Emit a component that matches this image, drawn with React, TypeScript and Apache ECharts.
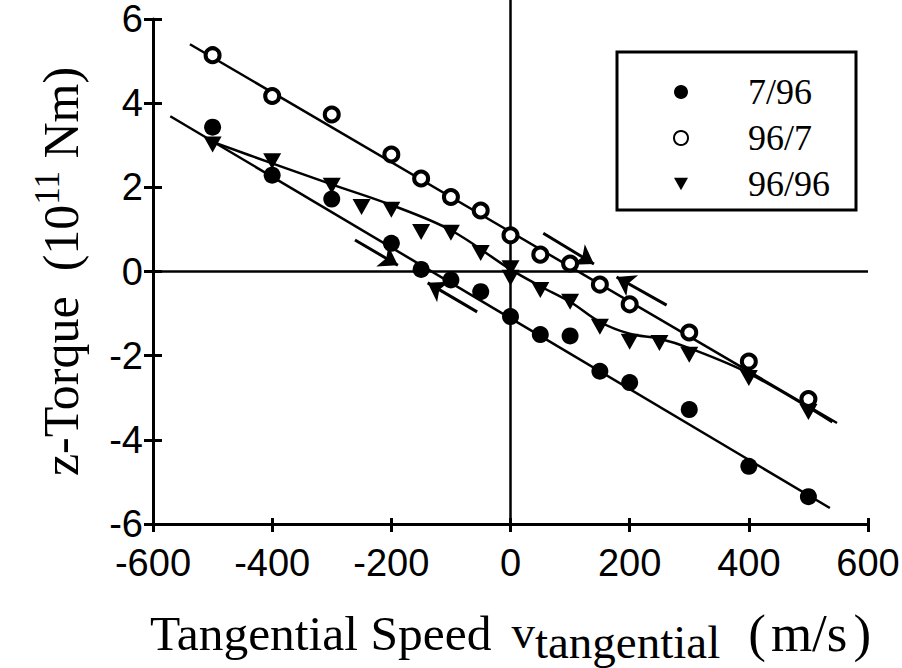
import React, { useEffect, useRef } from "react";
import * as echarts from "echarts";

const xMin = -600, xMax = 600, xStep = 200;
const yMin = -6, yMax = 6, yStep = 2;

const speeds = [-500, -400, -300, -200, -150, -100, -50, 0, 50, 100, 150, 200, 300, 400, 500];
const torque796 = [3.43, 2.29, 1.72, 0.67, 0.05, -0.2, -0.48, -1.07, -1.5, -1.53, -2.37, -2.64, -3.28, -4.63, -5.35];
const torque967 = [5.14, 4.17, 3.73, 2.78, 2.21, 1.77, 1.45, 0.86, 0.4, 0.19, -0.31, -0.78, -1.45, -2.14, -3.03];
const speeds9696 = [-500, -400, -300, -250, -200, -150, -100, -50, 0, 0, 50, 100, 150, 200, 250, 300, 400, 500];
const torque9696 = [3.02, 2.62, 2.04, 1.53, 1.47, 0.94, 0.92, 0.44, 0.08, -0.15, -0.44, -0.72, -1.31, -1.67, -1.7, -1.98, -2.53, -3.34];

const fit796X = [-571, 536];
const fit796Y = [3.69, -5.62];
const fit967X = [-538, 548];
const fit967Y = [5.4, -3.6];
const curve9696X = [-500, -400, -300, -200, -100, 0, 50, 100, 150, 200, 250, 300, 400, 540];
const curve9696Y = [3.08, 2.57, 2.07, 1.58, 0.98, 0.05, -0.35, -0.72, -1.2, -1.48, -1.6, -1.82, -2.42, -3.58];

const arrowFromX = [-261, -56, 55, 262];
const arrowFromY = [0.75, -0.96, 0.91, -0.8];
const arrowToX = [-189, -139, 140, 178];
const arrowToY = [0.15, -0.27, 0.18, -0.13];

const zeroVX = [0, 0];
const zeroVY = [yMin, 6.45];
const zeroHX = [xMin, xMax];
const zeroHY = [0, 0];

const names = ["7/96", "96/7", "96/96"];

const zip = (xs: number[], ys: number[]) => xs.map((x, i) => [x, ys[i]]);

const SERIF = "'Liberation Serif', 'Times New Roman', serif";
const SANS = "'Liberation Sans Narrow', 'Liberation Sans', Arial, sans-serif";
const TRI_DOWN = "path://M0,0 L20,0 L10,18 Z";

export default function App() {
  const ref = useRef<HTMLDivElement>(null);
  useEffect(() => {
    if (!ref.current) return;
    const chart = echarts.init(ref.current, undefined, { renderer: "svg" });
    const axisCommon = { show: true, lineStyle: { color: "#000", width: 3 } };
    const plainLine = (name: string, data: number[][], extra: any = {}) => ({
      name,
      type: "line",
      data,
      showSymbol: false,
      symbol: "none",
      lineStyle: { color: "#000", width: 2.5 },
      silent: true,
      ...extra,
    });
    chart.setOption({
      animation: false,
      backgroundColor: "#fff",
      grid: { left: 153, right: 34, top: 19, bottom: 144, containLabel: false, outerBoundsMode: "none" },
      legend: {
        data: names,
        orient: "vertical",
        left: 617,
        top: 52,
        padding: [22, 26, 8, 56],
        itemWidth: 14,
        itemHeight: 14,
        itemGap: 10,
        borderColor: "#000",
        borderWidth: 3,
        textStyle: { fontFamily: SERIF, fontSize: 36, color: "#000", lineHeight: 36, padding: [0, 0, 0, 55] },
      },
      xAxis: [
        {
          type: "value",
          min: xMin,
          max: xMax,
          interval: xStep,
          axisLine: { ...axisCommon, onZero: false },
          axisTick: { show: true, inside: false, length: 8, lineStyle: { color: "#000", width: 3 } },
          splitLine: { show: false },
          axisLabel: { fontFamily: SANS, fontSize: 38, color: "#000", margin: 20 },
          name: "{a|Tangential Speed}{b|v}{c|tangential}{d|(}{e|m/s}{f|)}",
          nameLocation: "middle",
          nameGap: 77,
          nameTextStyle: {
            rich: {
              a: { fontFamily: SERIF, fontSize: 49.5, color: "#000" },
              b: { fontFamily: SERIF, fontSize: 47, color: "#000", padding: [0, 0, 2, 20] },
              c: { fontFamily: SERIF, fontSize: 47, color: "#000", padding: [17, 0, 0, 0] },
              d: { fontFamily: SERIF, fontSize: 53, color: "#000", padding: [0, 0, 0, 28] },
              e: { fontFamily: SERIF, fontSize: 53, color: "#000", padding: [0, 0, 0, 5] },
              f: { fontFamily: SERIF, fontSize: 53, color: "#000", padding: [0, 0, 0, 6] },
            },
          },
        },
        {
          type: "value",
          min: xMin,
          max: xMax,
          interval: xStep,
          position: "bottom",
          axisLine: { show: false, onZero: false },
          axisTick: { show: true, inside: true, length: 6, lineStyle: { color: "#000", width: 3 } },
          axisLabel: { show: false },
          splitLine: { show: false },
        },
      ],
      yAxis: [
        {
          type: "value",
          min: yMin,
          max: yMax,
          interval: yStep,
          axisLine: { ...axisCommon, onZero: false },
          axisTick: { show: true, inside: false, length: 9, lineStyle: { color: "#000", width: 3 } },
          splitLine: { show: false },
          axisLabel: { fontFamily: SANS, fontSize: 38, color: "#000", margin: 10 },
          name: "{a|z-Torque  (10}{s|11}{a| Nm)}",
          nameLocation: "middle",
          nameGap: 62,
          nameTextStyle: {
            rich: {
              a: { fontFamily: SERIF, fontSize: 50, color: "#000" },
              s: { fontFamily: SERIF, fontSize: 35, color: "#000", padding: [0, 0, 26, 0] },
            },
          },
        },
        {
          type: "value",
          min: yMin,
          max: yMax,
          interval: yStep,
          position: "left",
          axisLine: { show: false, onZero: false },
          axisTick: { show: true, inside: true, length: 9, lineStyle: { color: "#000", width: 3 } },
          axisLabel: { show: false },
          splitLine: { show: false },
        },
      ],
      series: [
        plainLine("zeroV", zip(zeroVX, zeroVY), { clip: false }),
        plainLine("zeroH", zip(zeroHX, zeroHY)),
        plainLine("fit796", zip(fit796X, fit796Y)),
        plainLine("fit967", zip(fit967X, fit967Y)),
        plainLine("curve9696", zip(curve9696X, curve9696Y), { smooth: 0.35 }),
        {
          name: "arrows",
          type: "lines",
          coordinateSystem: "cartesian2d",
          symbol: ["none", "arrow"],
          symbolSize: [14, 18],
          lineStyle: { color: "#000", width: 3, opacity: 1 },
          data: arrowFromX.map((x, i) => ({
            coords: [
              [x, arrowFromY[i]],
              [arrowToX[i], arrowToY[i]],
            ],
          })),
          silent: true,
        },
        {
          name: names[0],
          type: "scatter",
          data: zip(speeds, torque796),
          symbol: "circle",
          symbolSize: 17,
          itemStyle: { color: "#000", opacity: 1 },
          z: 5,
        },
        {
          name: names[1],
          type: "scatter",
          data: zip(speeds, torque967),
          symbol: "circle",
          symbolSize: 14,
          itemStyle: { color: "#fff", borderColor: "#000", borderWidth: 4, opacity: 1 },
          z: 5,
        },
        {
          name: names[2],
          type: "scatter",
          data: zip(speeds9696, torque9696),
          symbol: TRI_DOWN,
          symbolSize: [18, 16],
          itemStyle: { color: "#000", opacity: 1 },
          z: 5,
        },
      ],
    });
    return () => chart.dispose();
  }, []);
  return (
    <div
      ref={ref}
      style={{ position: "absolute", left: 0, top: 0, width: 902, height: 668, background: "#fff" }}
    />
  );
}
